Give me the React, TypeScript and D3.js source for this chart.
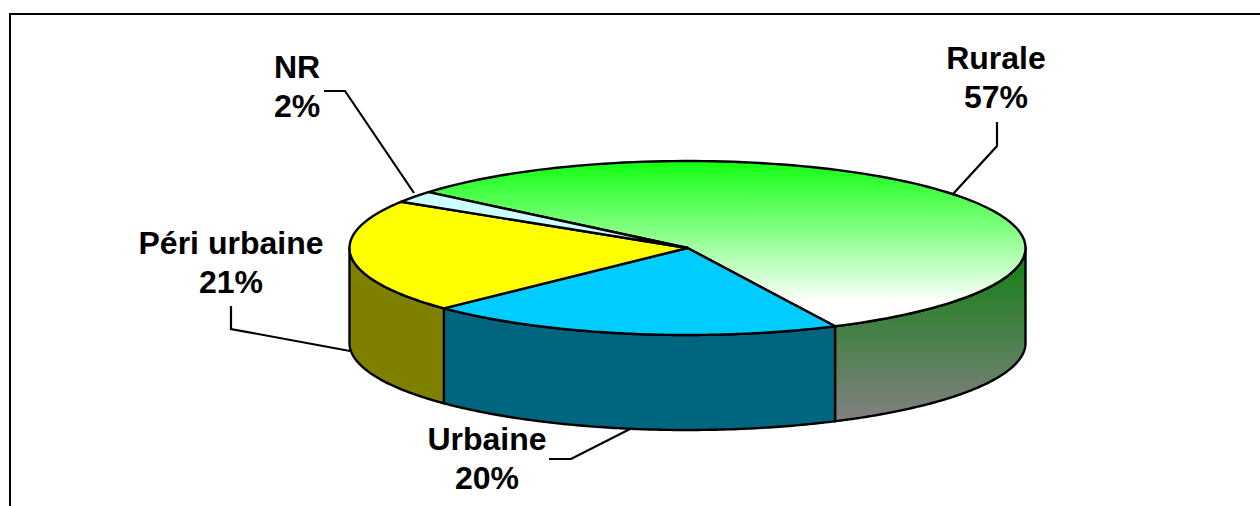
import React from "react";
import * as d3 from "d3";

const categories = ["Rurale", "Urbaine", "Péri urbaine", "NR"];
const values = [56.7, 20.0, 21.1, 2.2];
const topFills = ["url(#ruralTop)", "#00ccff", "#ffff00", "#ccffff"];
const sideFills = ["url(#ruralSide)", "#006680", "#808000", "#668080"];
const labelX = [996, 487, 231, 297];
const labelY = [58, 439, 243, 67];
const leaders = [
  [[997, 122], [997, 146], [953, 194]],
  [[549, 459], [571, 459], [630, 429]],
  [[231, 306], [231, 329], [350, 351]],
  [[324, 91], [345, 91], [414, 193]],
];

const W = 1260, H = 506;
const cx = 687.5, cy = 248, rx = 338, ry = 87, depth = 95;
const startDeg = -50;

const px = (a: number) => cx + rx * Math.sin(a);
const py = (a: number) => cy - ry * Math.cos(a);

export default function App() {
  const arcs = d3.pie<number>().sort(null)
    .startAngle((startDeg * Math.PI) / 180)
    .endAngle(((startDeg + 360) * Math.PI) / 180)(values);
  const line = d3.line<[number, number]>();
  const sample = (a0: number, a1: number) =>
    d3.range(0, 121).map((i) => a0 + ((a1 - a0) * i) / 120);
  const top = (a0: number, a1: number) =>
    line([[cx, cy], ...sample(a0, a1).map((a): [number, number] => [px(a), py(a)])]) + "Z";
  const side = (a0: number, a1: number) => {
    const s = sample(a0, a1);
    const upper = s.map((a): [number, number] => [px(a), py(a)]);
    const lower = s.slice().reverse().map((a): [number, number] => [px(a), py(a) + depth]);
    return line([...upper, ...lower]) + "Z";
  };
  const HALF = Math.PI / 2, FULL = (3 * Math.PI) / 2;
  return (
    <svg width={W} height={H} style={{ position: "absolute", left: 0, top: 0 }}>
      <defs>
        <linearGradient id="ruralTop" gradientUnits="userSpaceOnUse" x1="0" x2="0" y1={cy - ry} y2={cy + ry - 32}>
          <stop offset="0" stopColor="#11ff11" />
          <stop offset="1" stopColor="#ffffff" />
        </linearGradient>
        <linearGradient id="ruralSide" gradientUnits="userSpaceOnUse" x1="0" x2="0" y1={cy} y2={cy + ry - 12 + depth}>
          <stop offset="0" stopColor="#108010" />
          <stop offset="1" stopColor="#808080" />
        </linearGradient>
      </defs>
      <path d={`M10 506V14H1260`} fill="none" stroke="#000" strokeWidth={2} />
      <g stroke="#000" strokeWidth={2.4} strokeLinejoin="round">
        {arcs.map((d, i) => {
          const a0 = Math.max(d.startAngle, HALF);
          const a1 = Math.min(d.endAngle, FULL);
          return a1 > a0 ? <path key={"s" + i} d={side(a0, a1)} fill={sideFills[i]} /> : null;
        })}
        {arcs.map((d, i) => (
          <path key={"t" + i} d={top(d.startAngle, d.endAngle)} fill={topFills[i]} />
        ))}
      </g>
      <g fill="none" stroke="#000" strokeWidth={2.2}>
        {leaders.map((l, i) => <path key={i} d={line(l as [number, number][]) || ""} />)}
      </g>
      <g fontFamily="Liberation Sans" fontWeight="bold" fontSize={32} textAnchor="middle" fill="#000">
        {categories.map((c, i) => (
          <text key={c} x={labelX[i]} y={labelY[i] + 11}>
            <tspan x={labelX[i]}>{c}</tspan>
            <tspan x={labelX[i]} dy={39}>{Math.round(values[i])}%</tspan>
          </text>
        ))}
      </g>
    </svg>
  );
}
